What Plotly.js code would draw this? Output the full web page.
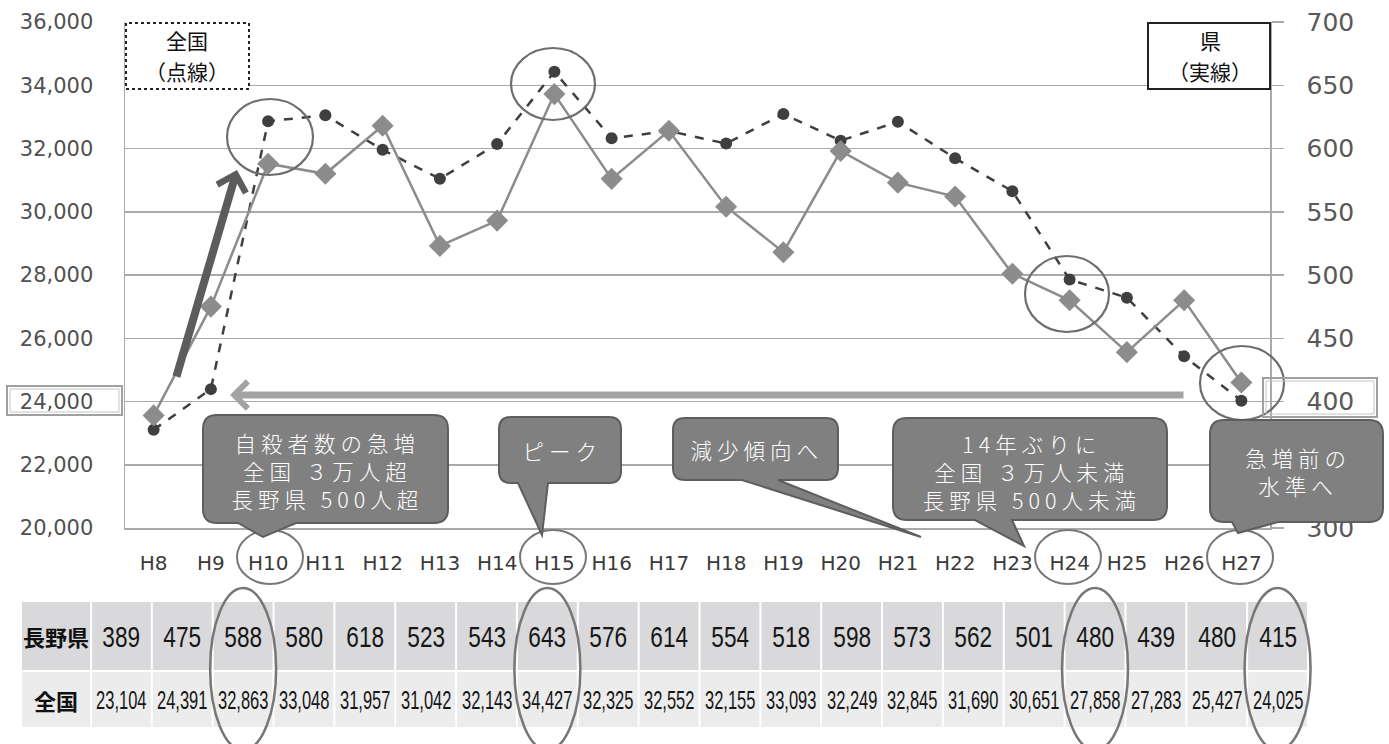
<!DOCTYPE html>
<html><head><meta charset="utf-8">
<script src="https://cdn.plot.ly/plotly-3.0.1.min.js"></script>
<style>html,body{margin:0;padding:0;background:#fff}#chart{width:1389px;height:744px}</style>
</head><body><div id="chart"></div>
<script>
// ---- data ----
const categories = ['H8','H9','H10','H11','H12','H13','H14','H15','H16','H17','H18','H19','H20','H21','H22','H23','H24','H25','H26','H27'];
const nagano = [389,475,588,580,618,523,543,643,576,614,554,518,598,573,562,501,480,439,480,415];
const national = [23104,24391,32863,33048,31957,31042,32143,34427,32325,32552,32155,33093,32249,32845,31690,30651,27858,27283,25427,24025];
const rowLabels = ['長野県','全国'];
const highlightIdx = [2,7,16,19];
const rightTicks = [300,400,450,500,550,600,650,700];

// ---- geometry helpers (pixel -> paper) ----
const W=1389,H=744, L=125, R=1270, T=22, B=528;
const px = x => (x-L)/(R-L);
const py = y => (B-y)/(B-T);
const P = (x,y) => px(x).toFixed(5)+','+py(y).toFixed(5);

const shapes=[], annotations=[];
const GRAYLINE='#a9a9a9';
const tableAnn=[], calloutAnn=[];

function ellipse(cx,cy,rx,ry,color,w){
  shapes.push({type:'circle',xref:'paper',yref:'paper',x0:px(cx-rx),x1:px(cx+rx),y0:py(cy+ry),y1:py(cy-ry),
    line:{color:color||'#6e6e6e',width:w||2.2},fillcolor:'rgba(0,0,0,0)',layer:'above'});
}
function rect(x0,y0,x1,y1,fill,lc,lw,dash){
  shapes.push({type:'rect',xref:'paper',yref:'paper',x0:px(x0),x1:px(x1),y0:py(y1),y1:py(y0),
    fillcolor:fill||'rgba(0,0,0,0)',line:{color:lc||'rgba(0,0,0,0)',width:lw||0,dash:dash||'solid'},layer:'above'});
}
function callout(x0,y0,x1,y1,r,bl,br,tx,ty){
  let d='M'+P(x0+r,y0)+' L'+P(x1-r,y0)+' Q'+P(x1,y0)+' '+P(x1,y0+r)+' L'+P(x1,y1-r)+' Q'+P(x1,y1)+' '+P(x1-r,y1);
  d+=' L'+P(br,y1)+' L'+P(tx,ty)+' L'+P(bl,y1);
  d+=' L'+P(x0+r,y1)+' Q'+P(x0,y1)+' '+P(x0,y1-r)+' L'+P(x0,y0+r)+' Q'+P(x0,y0)+' '+P(x0+r,y0)+' Z';
  shapes.push({type:'path',xref:'paper',yref:'paper',path:d,fillcolor:'#808080',line:{color:'#5e5e5e',width:2},layer:'above'});
}
function text(x,y,t,size,color,opts,family){
  annotations.push(Object.assign({xref:'paper',yref:'paper',x:px(x),y:py(y),text:t,showarrow:false,
    xanchor:'center',yanchor:'middle',
    font:{family:family||'"Noto Sans CJK JP", sans-serif',size:size,color:color}},opts||{}));
  return annotations.length-1;
}
function calloutText(x,y,lines){
  calloutAnn.push(text(x,y,lines.join('<br>'),21.5,'#ffffff'));
}

// legend boxes
rect(126,23,249,89,'#ffffff','#222',2,'dot');
text(187,40,'全国',21,'#111');
text(187,71,'（点線）',21,'#111');
rect(1148,23,1270,89,'#ffffff','#222',2);
text(1210,40,'県',21,'#111');
text(1210,71,'（実線）',21,'#111');

// circles around points
ellipse(270,137,43,38);
ellipse(553,84,42,36);
ellipse(1067,294,42,38);
ellipse(1242,383,42,37);
// circles around x labels
[270,553,1068,1240].forEach(cx=>ellipse(cx,557,33,27,'#777',2));

// boxes round 24,000 and 400
rect(7,386,122,415,'rgba(0,0,0,0)','#a0a0a0',2);
rect(10,389,119,412,'rgba(0,0,0,0)','#c4c4c4',1);
rect(1263,378,1377,417,'rgba(0,0,0,0)','#a0a0a0',2);
rect(1266,381,1374,414,'rgba(0,0,0,0)','#c4c4c4',1);

// arrows
annotations.push({xref:'paper',yref:'paper',x:px(230),y:py(395),ax:1185-230,ay:0,text:'',showarrow:true,
  arrowcolor:'#a3a3a3',arrowwidth:7,arrowhead:4,arrowsize:0.75});
annotations.push({xref:'paper',yref:'paper',x:px(237),y:py(170),ax:176-237,ay:378-170,text:'',showarrow:true,
  arrowcolor:'#5c5c5c',arrowwidth:8,arrowhead:4,arrowsize:0.72});

// callouts
callout(203,415,448,523,14,238,296,263,537);
calloutText(327,470,['自殺者数の急増','全国 ３万人超','長野県 500人超']);
callout(499,417,621,483,12,518,548,542,535);
calloutText(562,450,['ピーク']);
callout(673,418,838,480,12,742,778,921,537);
calloutText(757,449,['減少傾向へ']);
callout(893,418,1167,520,14,975,1012,1024,546);
calloutText(1032,471,['14年ぶりに','全国 ３万人未満','長野県 500人未満']);
callout(1210,420,1383,522,14,1232,1278,1238,533);
calloutText(1298,471,['急増前の','水準へ']);

// table
const colX0=92, pitch=60.85, rows=[[602,670,'#d9d9db'],[672,727,'#ececec']];
rows.forEach((r,ri)=>{
  rect(22,r[0],90,r[1],r[2]);
  text(56,(r[0]+r[1])/2,'<b>'+rowLabels[ri]+'</b>',22,'#111');
  categories.forEach((c,i)=>{
    const x0=colX0+pitch*i;
    rect(x0,r[0],x0+pitch-2,r[1],r[2]);
    const v = ri===0 ? String(nagano[i]) : national[i].toLocaleString('en-US');
    tableAnn.push([text(x0+(pitch-2)/2,(r[0]+r[1])/2+(ri===0?1:0),v,ri===0?29:25,'#161616',{},'"Liberation Sans", Arial, sans-serif'),ri]);
  });
});
// table ellipses
highlightIdx.forEach(i=>{
  const cx=colX0+pitch*i+(pitch-2)/2;
  ellipse(cx,669,33,81,'#777',2.5);
});

const traces=[
  {x:categories,y:national,type:'scatter',mode:'lines+markers',name:'全国',yaxis:'y',
   line:{color:'#3f3f3f',width:2.5,dash:'dash'},marker:{symbol:'circle',size:12,color:'#3f3f3f'}},
  {x:categories,y:nagano,type:'scatter',mode:'lines+markers',name:'長野県',yaxis:'y2',
   line:{color:'#8c8c8c',width:2.5},marker:{symbol:'diamond',size:17,color:'#8c8c8c'}}
];

const layout={
  width:W,height:H,showlegend:false,paper_bgcolor:'#fff',plot_bgcolor:'#fff',
  margin:{l:L,r:W-R,t:T,b:H-B,pad:0},
  font:{family:'"DejaVu Sans", sans-serif'},
  xaxis:{type:'category',range:[-0.5,19.5],showgrid:false,showline:true,mirror:false,linecolor:GRAYLINE,linewidth:1.5,
    ticks:'',tickfont:{size:20,color:'#3a3a3a'},ticklabelstandoff:16,zeroline:false},
  yaxis:{range:[20000,36000],dtick:2000,tickformat:',d',showgrid:true,gridcolor:GRAYLINE,gridwidth:1.5,
    showline:true,linecolor:GRAYLINE,linewidth:1.5,ticks:'',tickfont:{size:21,color:'#505050'},ticklabelstandoff:26,zeroline:false},
  yaxis2:{range:[300,700],tickmode:'array',tickvals:rightTicks,ticktext:rightTicks.map(String),overlaying:'y',side:'right',showgrid:false,showline:true,linecolor:GRAYLINE,linewidth:1.5,
    ticks:'outside',ticklen:12,tickcolor:GRAYLINE,tickwidth:1.5,tickfont:{size:25,color:'#595959'},ticklabelstandoff:18,zeroline:false},
  shapes:shapes,annotations:annotations
};
Plotly.newPlot('chart',traces,layout,{displayModeBar:false,staticPlot:true}).then(gd=>{
  tableAnn.forEach(([k,ri])=>{
    const t=gd.querySelector('.annotation[data-index="'+k+'"] text.annotation-text');
    if(t){t.style.transformBox='fill-box';t.style.transformOrigin='center';t.style.transform='scaleX('+(ri===0?0.78:0.66)+')';}
  });
  calloutAnn.forEach(k=>{
    const t=gd.querySelector('.annotation[data-index="'+k+'"] text.annotation-text');
    if(t){t.style.letterSpacing='5px';t.style.fontWeight='300';}
  });
});
</script></body></html>
